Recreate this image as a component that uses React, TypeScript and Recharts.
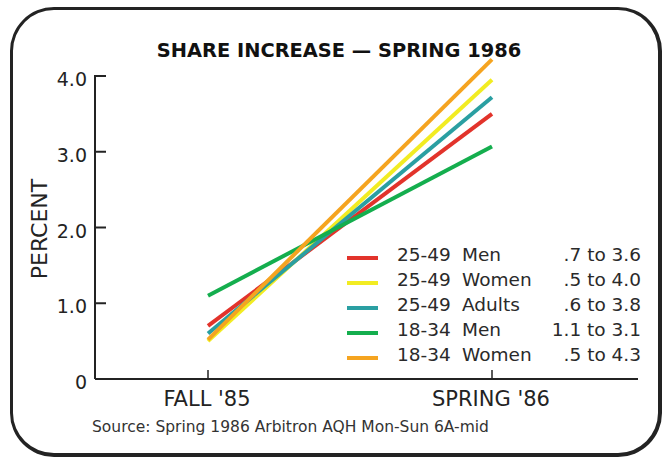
import { LineChart, Line, XAxis, YAxis } from 'recharts';

const periods = ["FALL '85", "SPRING '86"];
const men2549 = [0.7, 3.5];
const women2549 = [0.5, 3.95];
const adults2549 = [0.6, 3.72];
const men1834 = [1.1, 3.07];
const women1834 = [0.52, 4.22];

const seriesKeys = ['men2549', 'women2549', 'adults2549', 'men1834', 'women1834'];
const ageGroups = ['25-49', '25-49', '25-49', '18-34', '18-34'];
const demos = ['Men', 'Women', 'Adults', 'Men', 'Women'];
const ranges = ['.7 to 3.6', '.5 to 4.0', '.6 to 3.8', '1.1 to 3.1', '.5 to 4.3'];
const colors = ['#e2332b', '#f2ec22', '#2a9fa2', '#14ae4e', '#f5a420'];
const yTicks = [0, 1, 2, 3, 4];

const data = periods.map((p, i) => ({
  period: p,
  men2549: men2549[i],
  women2549: women2549[i],
  adults2549: adults2549[i],
  men1834: men1834[i],
  women1834: women1834[i],
}));

const FONT = '"DejaVu Sans", Verdana, sans-serif';
const INK = '#232323';
const AXIS_X = 95;
const AXIS_Y = 379;

// y axis line drawn from the top tick down, ticks point inward
const YTick = (props: any) => {
  const { y, payload } = props;
  const v = payload.value;
  return (
    <g>
      {v === 4 && <line x1={AXIS_X} x2={AXIS_X} y1={y - 1} y2={AXIS_Y} stroke={INK} strokeWidth={2} />}
      {v !== 0 && <line x1={AXIS_X} x2={AXIS_X + 11} y1={y} y2={y} stroke={INK} strokeWidth={2} />}
      <text x={87} y={y + 10} textAnchor='end' fontSize={19} fill={INK} fontFamily={FONT}>
        {v === 0 ? '0' : v.toFixed(1)}
      </text>
    </g>
  );
};

const XTick = (props: any) => {
  const { x, payload } = props;
  return (
    <g>
      <line x1={x} x2={x} y1={AXIS_Y - 9} y2={AXIS_Y} stroke={INK} strokeWidth={1.5} />
      <text x={x - 1} y={406} textAnchor='middle' fontSize={21} fill={INK} fontFamily={FONT}>
        {payload.value}
      </text>
    </g>
  );
};

export default function App() {
  return (
    <div style={{ position: 'absolute', left: 0, top: 0, width: 665, height: 463, background: '#fff' }}>
      <div
        style={{
          position: 'absolute',
          left: 10,
          top: 7,
          width: 645,
          height: 443,
          border: `3px solid ${INK}`,
          borderRightWidth: 4,
          borderBottomWidth: 4,
          borderRadius: 44,
        }}
      />
      <LineChart
        width={665}
        height={463}
        data={data}
        margin={{ top: 45.7, right: 27, bottom: 54, left: 30 }}
        style={{ position: 'absolute', left: 0, top: 0 }}
      >
        <XAxis
          dataKey='period'
          scale='point'
          padding={{ left: 113, right: 146 }}
          height={30}
          axisLine={{ stroke: INK, strokeWidth: 2 }}
          tickLine={false}
          tick={<XTick />}
        />
        <YAxis
          domain={[0, 4.4]}
          ticks={yTicks}
          width={65}
          axisLine={false}
          tickLine={false}
          tick={<YTick />}
        />
        {seriesKeys.map((k, i) => (
          <Line
            key={k}
            dataKey={k}
            stroke={colors[i]}
            strokeWidth={4}
            dot={false}
            isAnimationActive={false}
          />
        ))}
      </LineChart>
      <svg
        width={665}
        height={463}
        style={{ position: 'absolute', left: 0, top: 0, pointerEvents: 'none' }}
        fontFamily={FONT}
      >
        <text x={339} y={57} textAnchor='middle' fontSize={19.4} fontWeight='bold' fill='#111'>
          SHARE INCREASE — SPRING 1986
        </text>
        <text
          x={47}
          y={229}
          textAnchor='middle'
          fontSize={22}
          fill={INK}
          transform='rotate(-90 47 229)'
        >
          PERCENT
        </text>
        <text x={92} y={432} fontSize={15.5} fill='#333'>
          Source: Spring 1986 Arbitron AQH Mon-Sun 6A-mid
        </text>
        {seriesKeys.map((k, i) => (
          <g key={k} fontSize={18.5} fill='#2a2a2a'>
            <line
              x1={347}
              x2={378}
              y1={258 + 25 * i}
              y2={258 + 25 * i}
              stroke={colors[i]}
              strokeWidth={4}
            />
            <text x={397} y={261 + 25 * i}>{ageGroups[i]}</text>
            <text x={462} y={261 + 25 * i}>{demos[i]}</text>
            <text x={641} y={261 + 25 * i} textAnchor='end'>{ranges[i]}</text>
          </g>
        ))}
      </svg>
    </div>
  );
}
